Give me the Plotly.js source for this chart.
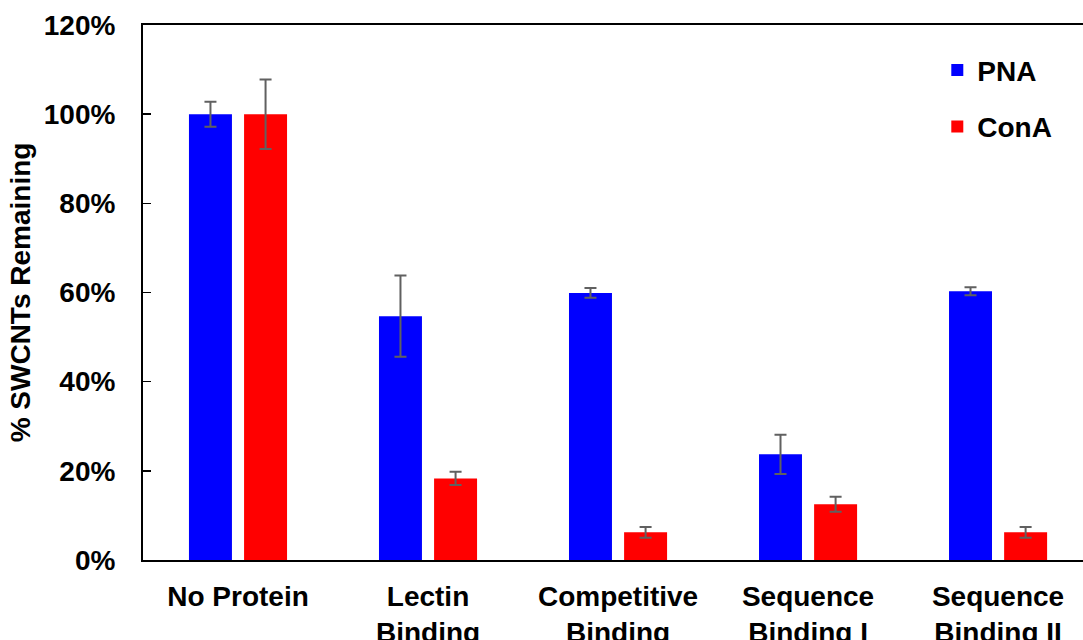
<!DOCTYPE html>
<html>
<head>
<meta charset="utf-8">
<script src="https://cdn.plot.ly/plotly-3.0.1.min.js"></script>
<style>
  html, body { margin: 0; padding: 0; background: #fff; }
  #chart { width: 1083px; height: 640px; }
</style>
</head>
<body>
<div id="chart"></div>
<script>
const categories = ['No Protein', 'Lectin<br>Binding', 'Competitive<br>Binding', 'Sequence<br>Binding I', 'Sequence<br>Binding II'];
const pnaValues = [100, 54.7, 59.9, 23.7, 60.3];
const pnaErrors = [2.8, 9.1, 1.1, 4.4, 0.9];
const conaValues = [100, 18.3, 6.2, 12.5, 6.2];
const conaErrors = [7.8, 1.5, 1.2, 1.7, 1.2];
const yTickValues = [0, 20, 40, 60, 80, 100, 120];

const FONT = 'Liberation Sans, Arial, sans-serif';
const FS = 28;

const errStyle = { type: 'data', visible: true, color: '#606060', thickness: 2, width: 6 };

const traces = [
  {
    type: 'bar', name: 'PNA', x: categories, y: pnaValues,
    marker: { color: '#0000FF' },
    error_y: Object.assign({ array: pnaErrors }, errStyle),
    legendgroup: 'a', hoverinfo: 'skip'
  },
  {
    type: 'bar', name: 'ConA', x: categories, y: conaValues,
    marker: { color: '#FF0000' },
    error_y: Object.assign({ array: conaErrors }, errStyle),
    legendgroup: 'b', hoverinfo: 'skip'
  }
];

const layout = {
  width: 1083, height: 640,
  margin: { l: 143, r: 0, t: 25, b: 80 },
  paper_bgcolor: '#fff', plot_bgcolor: '#fff',
  barmode: 'group', bargap: 0.42, bargroupgap: 0.22,
  font: { family: FONT, color: '#000', size: FS, weight: 'bold' },
  showlegend: true,
  legend: {
    x: 0.845, y: 0.962, xanchor: 'left', yanchor: 'top',
    bgcolor: 'rgba(0,0,0,0)',
    font: { family: FONT, size: FS, color: '#000', weight: 'bold' },
    traceorder: 'grouped', tracegroupgap: 17,
    itemwidth: 30
  },
  xaxis: {
    type: 'category',
    range: [-0.5, 4.447],
    showline: true, linecolor: '#000', linewidth: 2, mirror: true,
    ticks: '', showgrid: false, zeroline: false,
    tickfont: { family: FONT, size: FS, color: '#000', weight: 'bold' },
    ticklabelstandoff: 10,
    fixedrange: true
  },
  yaxis: {
    range: [0, 120],
    tickvals: yTickValues,
    ticktext: yTickValues.map(v => v + '%'),
    showline: true, linecolor: '#000', linewidth: 2,
    ticks: 'inside', ticklen: 8, tickwidth: 1.5, tickcolor: '#000',
    showgrid: false, zeroline: false,
    tickfont: { family: FONT, size: FS, color: '#000', weight: 'bold' },
    ticklabelstandoff: 20,
    title: { text: '% SWCNTs Remaining', font: { family: FONT, size: FS, color: '#000', weight: 'bold' }, standoff: 5 },
    fixedrange: true
  }
};

Plotly.newPlot('chart', traces, layout, { displayModeBar: false, staticPlot: true });
</script>
</body>
</html>
